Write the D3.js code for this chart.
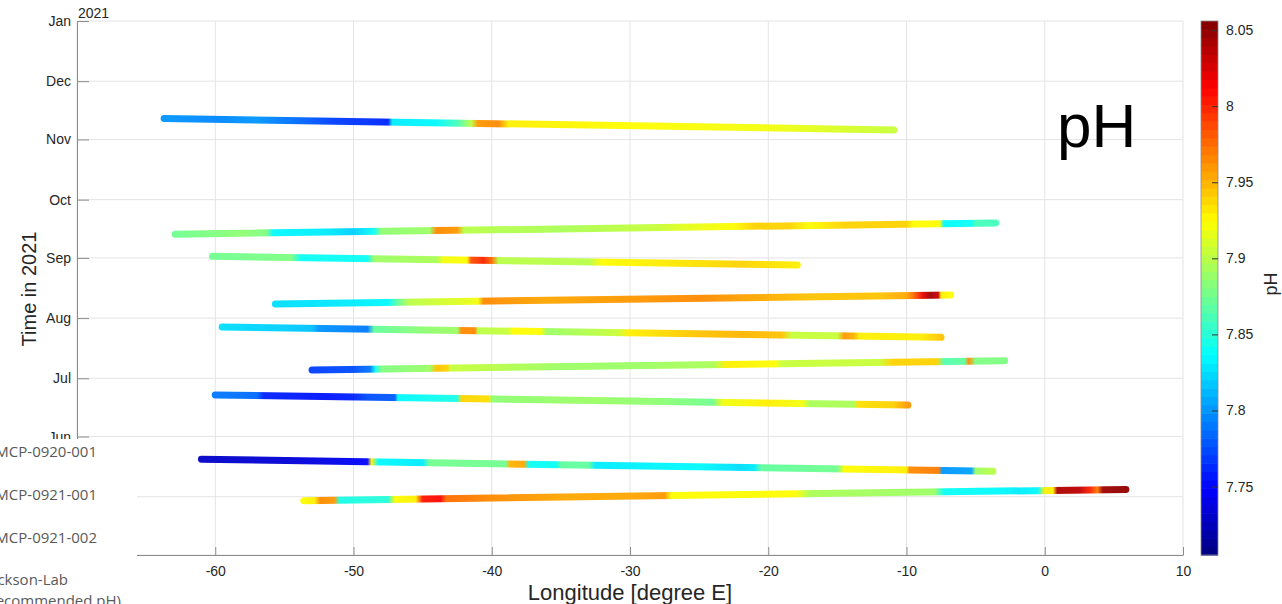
<!DOCTYPE html>
<html><head><meta charset="utf-8">
<script src="https://cdn.jsdelivr.net/npm/d3@7"></script>
<style>body{margin:0;background:#fff;overflow:hidden} svg{display:block}</style>
</head><body>
<svg id="c" width="1282" height="604"></svg>
<script>
// ---------- data ----------
const xTickValues = [-70, -60, -50, -40, -30, -20, -10, 0, 10];
const monthTickDates = ["2021-04-01T00","2021-05-01T00","2021-06-01T00","2021-07-01T00","2021-08-01T00","2021-09-01T00","2021-10-01T00","2021-11-01T00","2021-12-01T00","2022-01-01T00"];
const monthTickLabels = ["Apr","May","Jun","Jul","Aug","Sep","Oct","Nov","Dec","Jan"];
const colorbarTicks = [7.75, 7.8, 7.85, 7.9, 7.95, 8, 8.05];
const legendLabels = ["MCP-0920-001", "MCP-0921-001", "MCP-0921-002", "(Dickson-Lab", "recommended pH)"];

// track endpoints: [longitude, time]
const trackStarts = [
  [-63.7, "2021-11-11T19"], [-62.9, "2021-09-13T05"], [-60.2, "2021-09-01T19"],
  [-55.65, "2021-08-08T07"], [-59.5, "2021-07-27T10"], [-53.0, "2021-07-05T07"],
  [-60.0, "2021-06-22T10"], [-61.0, "2021-05-20T07"], [-53.6, "2021-04-29T00"]
];
const trackEnds = [
  [-10.9, "2021-11-05T22"], [-3.55, "2021-09-19T00"], [-17.9, "2021-08-28T07"],
  [-6.8, "2021-08-12T22"], [-7.5, "2021-07-22T02"], [-2.9, "2021-07-10T02"],
  [-9.9, "2021-06-17T05"], [-3.75, "2021-05-14T02"], [5.87, "2021-05-04T19"]
];
// pH readings along each track: [longitude, pH]
const phNov = [[-63.7,7.80],[-60,7.795],[-57,7.80],[-54,7.785],[-51.5,7.77],[-49,7.765],[-47.5,7.76],[-47.2,7.83],[-44,7.835],[-42.5,7.86],[-41.5,7.90],[-41,7.96],[-39.5,7.965],[-38.8,7.93],[-30,7.925],[-20,7.92],[-14,7.91],[-10.9,7.905]];
const phSepB = [[-62.9,7.875],[-58,7.885],[-56.3,7.88],[-55.8,7.835],[-52,7.83],[-50,7.82],[-48.5,7.84],[-48,7.885],[-44.5,7.89],[-44,7.965],[-42.5,7.96],[-42,7.90],[-35,7.895],[-28,7.905],[-26,7.915],[-22.5,7.925],[-21,7.94],[-18.5,7.94],[-17,7.925],[-14.5,7.94],[-10,7.94],[-9.5,7.925],[-7.6,7.925],[-7.3,7.835],[-5.3,7.84],[-5,7.86],[-3.55,7.86]];
const phSepA = [[-60.2,7.875],[-54.5,7.88],[-53.8,7.84],[-49,7.84],[-48.5,7.89],[-44,7.895],[-43.5,7.92],[-41.8,7.925],[-41.5,7.985],[-40.6,8.0],[-40,7.975],[-39.5,7.90],[-33,7.90],[-32,7.925],[-25,7.935],[-22,7.94],[-17.9,7.93]];
const phAugB = [[-55.65,7.825],[-50,7.83],[-47.5,7.835],[-46.8,7.87],[-46,7.90],[-42,7.915],[-41,7.92],[-40.6,7.965],[-38.5,7.96],[-36,7.955],[-30,7.96],[-25,7.965],[-21,7.955],[-17,7.945],[-12,7.945],[-10,7.955],[-9.5,7.975],[-8.8,8.02],[-8.3,8.045],[-7.7,8.03],[-7.5,7.93],[-6.8,7.925]];
const phAugA = [[-59.5,7.825],[-55,7.82],[-53,7.815],[-52.5,7.80],[-49,7.79],[-48.5,7.87],[-45,7.885],[-42.5,7.89],[-42.2,7.965],[-41.2,7.965],[-41,7.90],[-38.8,7.905],[-38.5,7.925],[-36.5,7.925],[-36,7.89],[-34,7.895],[-31,7.905],[-30,7.93],[-25,7.945],[-22,7.95],[-19,7.945],[-18.3,7.905],[-15,7.905],[-14.5,7.96],[-13.8,7.95],[-13.4,7.93],[-9,7.93],[-7.5,7.945]];
const phJulB = [[-53,7.77],[-50,7.775],[-48.8,7.79],[-48.4,7.84],[-48,7.88],[-44.5,7.89],[-44,7.945],[-43.2,7.94],[-43,7.905],[-40,7.90],[-35,7.89],[-30,7.89],[-24,7.895],[-23,7.93],[-19.5,7.925],[-19,7.905],[-12,7.905],[-11,7.94],[-7.8,7.94],[-7.3,7.865],[-5.8,7.87],[-5.5,7.965],[-5,7.88],[-2.9,7.88]];
const phJun = [[-60,7.79],[-57,7.785],[-56.5,7.76],[-52,7.755],[-50,7.76],[-49,7.775],[-47,7.78],[-46.8,7.835],[-42.5,7.845],[-42.2,7.94],[-40.2,7.935],[-40,7.885],[-33,7.89],[-28,7.885],[-24,7.875],[-23.3,7.92],[-20,7.93],[-17.5,7.92],[-17,7.895],[-13.8,7.895],[-13.5,7.935],[-11,7.94],[-9.9,7.96]];
const phMayB = [[-61,7.73],[-55,7.735],[-52,7.74],[-49,7.75],[-48.7,7.93],[-48.2,7.835],[-45,7.83],[-44.5,7.875],[-39,7.875],[-38.7,7.95],[-37.7,7.955],[-37.3,7.84],[-35.3,7.84],[-35,7.87],[-33,7.87],[-32.5,7.83],[-25,7.835],[-22,7.825],[-21,7.83],[-20.5,7.87],[-15,7.875],[-14.5,7.925],[-10,7.93],[-9.8,7.965],[-7.7,7.97],[-7.4,7.80],[-5.3,7.805],[-5,7.89],[-3.75,7.90]];
const phMayA = [[-53.6,7.925],[-52.8,7.93],[-52.4,7.965],[-51.4,7.96],[-51,7.845],[-47.5,7.85],[-47,7.925],[-45.5,7.93],[-45,8.005],[-43.7,8.01],[-43.3,7.975],[-40,7.965],[-35,7.955],[-30,7.955],[-27.5,7.96],[-27,7.925],[-18,7.925],[-17,7.895],[-8,7.89],[-7.3,7.84],[-3,7.835],[-2,7.83],[-0.5,7.835],[0,7.93],[0.6,7.93],[0.9,8.04],[2.5,8.035],[3.3,8.0],[3.8,7.97],[4.2,8.045],[5.87,8.05]];
const trackPH = [phNov, phSepB, phSepA, phAugB, phAugA, phJulB, phJun, phMayB, phMayA];

// ---------- layout ----------
const svg = d3.select("#c");
const parseT = d3.timeParse("%Y-%m-%dT%H");
const L = 77, R = 1183, T = 21, B = 555;
const x = d3.scaleLinear().domain([-70, 10]).range([L, R]);
const y = d3.scaleTime().domain([parseT(monthTickDates[0]), parseT(monthTickDates[monthTickDates.length-1])]).range([B, T]);
const cMin = 7.705, cMax = 8.056;
const cy = d3.scaleLinear().domain([cMin, cMax]).range([B, T]);
function jet(t) {
  t = Math.max(0, Math.min(1, t));
  const cl = v => Math.max(0, Math.min(1, v));
  const r = cl(1.5 - Math.abs(4*t - 3)), g = cl(1.5 - Math.abs(4*t - 2)), b = cl(1.5 - Math.abs(4*t - 1));
  return d3.rgb(r*255, g*255, b*255).formatHex();
}
const color = v => jet((v - cMin) / (cMax - cMin));
const font = "'Liberation Sans', Arial, Helvetica, sans-serif";
const gridC = "#e4e4e4", axisC = "#8c8c8c", textC = "#262626";

// grid
const grid = svg.append("g");
grid.selectAll("line.v").data(xTickValues).join("line")
  .attr("x1", d => x(d)).attr("x2", d => x(d)).attr("y1", T).attr("y2", B)
  .attr("stroke", gridC).attr("stroke-width", 1);
grid.selectAll("line.h").data(monthTickDates).join("line")
  .attr("x1", L).attr("x2", R).attr("y1", d => y(parseT(d))).attr("y2", d => y(parseT(d)))
  .attr("stroke", gridC).attr("stroke-width", 1);

// tracks
const defs = svg.append("defs");
const tracks = svg.append("g");
trackPH.forEach((ph, i) => {
  const s = trackStarts[i], e = trackEnds[i];
  const x1 = x(s[0]), y1 = y(parseT(s[1])), x2 = x(e[0]), y2 = y(parseT(e[1]));
  const gr = defs.append("linearGradient").attr("id", "g" + i)
    .attr("gradientUnits", "userSpaceOnUse")
    .attr("x1", x1).attr("y1", y1).attr("x2", x2).attr("y2", y2);
  gr.selectAll("stop").data(ph).join("stop")
    .attr("offset", d => Math.max(0, Math.min(1, (d[0] - s[0]) / (e[0] - s[0]))))
    .attr("stop-color", d => color(d[1]));
  tracks.append("path")
    .attr("d", d3.line()([[x1, y1], [x2, y2]]))
    .attr("stroke", `url(#g${i})`).attr("stroke-width", 7)
    .attr("stroke-linecap", "round").attr("fill", "none").attr("opacity", 0.95);
});

// axes
const xAxis = d3.axisBottom(x).tickValues(xTickValues).tickFormat(d => String(d))
  .tickSizeInner(-8).tickSizeOuter(0).tickPadding(11);
const gx = svg.append("g").attr("transform", `translate(0,${B})`).call(xAxis);
gx.select(".domain").attr("stroke", axisC);
gx.selectAll(".tick line").attr("stroke", axisC);
gx.selectAll("text").attr("font-family", font).attr("font-size", 14).attr("fill", textC);

const yAxis = d3.axisLeft(y).tickValues(monthTickDates.map(parseT))
  .tickFormat((d, i) => monthTickLabels[i]).tickSizeInner(-12).tickSizeOuter(0).tickPadding(6);
const gy = svg.append("g").attr("transform", `translate(${L},0)`).call(yAxis);
gy.select(".domain").attr("stroke", axisC);
gy.selectAll(".tick line").attr("stroke", axisC);
gy.selectAll("text").attr("font-family", font).attr("font-size", 14).attr("fill", textC);

svg.append("text").attr("x", 78).attr("y", 18).text("2021")
  .attr("font-family", font).attr("font-size", 14).attr("fill", textC);
svg.append("text").attr("x", 630).attr("y", 600).attr("text-anchor", "middle")
  .text("Longitude [degree E]").attr("font-family", font).attr("font-size", 22).attr("fill", textC);
svg.append("text").attr("transform", "translate(36,289) rotate(-90)").attr("text-anchor", "middle")
  .text("Time in 2021").attr("font-family", font).attr("font-size", 20).attr("fill", textC);
svg.append("text").attr("x", 1057).attr("y", 147).text("pH")
  .attr("font-family", font).attr("font-size", 62).attr("fill", "#000");

// colorbar
const cbX = 1201, cbW = 17, nBands = 64;
const bands = d3.range(nBands).map(k => cMin + (k + 0.5) * (cMax - cMin) / nBands);
const step = (cMax - cMin) / nBands;
svg.append("g").selectAll("rect").data(bands).join("rect")
  .attr("x", cbX).attr("width", cbW)
  .attr("y", d => cy(d + step / 2)).attr("height", d => cy(d - step / 2) - cy(d + step / 2) + 0.6)
  .attr("fill", d => color(d));
svg.append("rect").attr("x", cbX).attr("y", T).attr("width", cbW).attr("height", B - T)
  .attr("fill", "none").attr("stroke", "#8c8c8c").attr("stroke-width", 0.8);
const cAxis = d3.axisRight(cy).tickValues(colorbarTicks).tickFormat(d3.format("")).tickSizeInner(-6).tickSizeOuter(0).tickPadding(8);
const gc = svg.append("g").attr("transform", `translate(${cbX + cbW},0)`).call(cAxis);
gc.select(".domain").remove();
gc.selectAll(".tick line").attr("stroke", "#333");
gc.selectAll("text").attr("font-family", font).attr("font-size", 14).attr("fill", textC);
svg.append("text").attr("transform", "translate(1277,284) rotate(-90)").attr("text-anchor", "middle")
  .text("pH").attr("font-family", font).attr("font-size", 18).attr("fill", textC);

// overlapping legend panel (bottom-left)
svg.append("rect").attr("x", 0).attr("y", 439).attr("width", 137).attr("height", 165).attr("fill", "#fff");
const legY = [457, 500, 543, 585, 606];
const legX = [97, 97, 97, 68, 121];
svg.append("g").selectAll("text").data(legendLabels).join("text")
  .attr("x", (d, i) => legX[i]).attr("y", (d, i) => legY[i]).attr("text-anchor", "end")
  .text(d => d).attr("font-family", "'Open Sans', 'Noto Sans', sans-serif").attr("font-size", 15).attr("fill", "#595959");
</script>
</body></html>
